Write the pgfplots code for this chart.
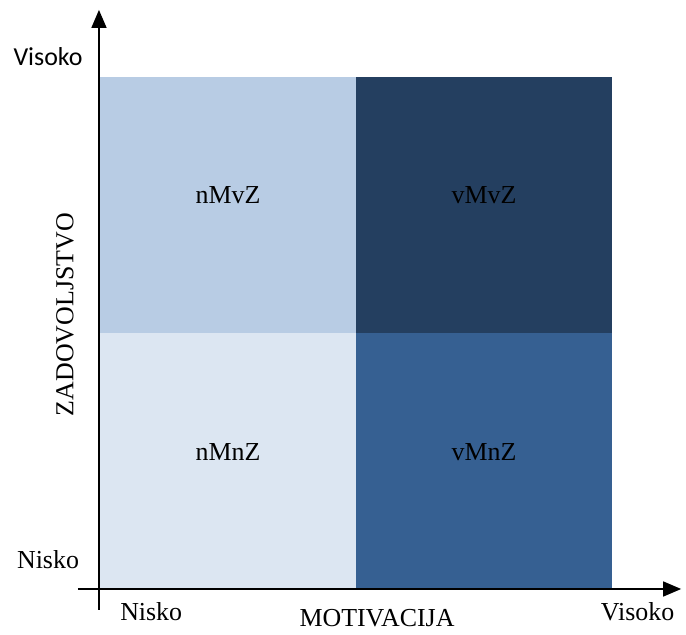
\documentclass[border=0pt]{standalone}
\usepackage{fontspec}
\setmainfont{Liberation Serif}
\newfontfamily\calfont{Carlito}
\usepackage{pgfplots}
\pgfplotsset{compat=1.18}
\usetikzlibrary{arrows.meta}
\definecolor{cTL}{HTML}{B8CCE4}
\definecolor{cTR}{HTML}{243F60}
\definecolor{cBL}{HTML}{DCE6F2}
\definecolor{cBR}{HTML}{366092}
\begin{document}
\begin{tikzpicture}[x=1bp,y=1bp, lab/.style={font=\fontsize{26}{31}\selectfont, inner sep=0pt}]
\useasboundingbox (0,0) rectangle (686,635);
\begin{axis}[at={(100bp,46bp)}, anchor=origin, scale only axis, width=512bp, height=512bp,
  xmin=0, xmax=2, ymin=0, ymax=2, hide axis, clip=false]
\addplot[fill=cBL, draw=none] coordinates {(0,0) (1,0) (1,1) (0,1)} --cycle;
\addplot[fill=cBR, draw=none] coordinates {(1,0) (2,0) (2,1) (1,1)} --cycle;
\addplot[fill=cTL, draw=none] coordinates {(0,1) (1,1) (1,2) (0,2)} --cycle;
\addplot[fill=cTR, draw=none] coordinates {(1,1) (2,1) (2,2) (1,2)} --cycle;
\draw[line width=1.6bp, -{Triangle[width=15bp,length=18bp]}] (axis cs:-0.004,-0.082) -- (axis cs:-0.004,2.262);
\draw[line width=1.6bp, -{Triangle[width=15bp,length=18bp]}] (axis cs:-0.086,0) -- (axis cs:2.27,0);
\node[lab] at (axis cs:0.5,1.54) {nMvZ};
\node[lab] at (axis cs:1.5,1.54) {vMvZ};
\node[lab] at (axis cs:0.5,0.535) {nMnZ};
\node[lab] at (axis cs:1.5,0.535) {vMnZ};
\node[lab, rotate=90] at (axis cs:-0.137,1.072) {ZADOVOLJSTVO};
\node[lab] at (axis cs:1.082,-0.113) {MOTIVACIJA};
\node[lab] at (axis cs:0.2,-0.09) {Nisko};
\node[lab] at (axis cs:2.1,-0.09) {Visoko};
\node[lab] at (axis cs:-0.203,0.113) {Nisko};
\node[lab] at (axis cs:-0.203,2.08) {\calfont Visoko};
\end{axis}
\end{tikzpicture}
\end{document}
